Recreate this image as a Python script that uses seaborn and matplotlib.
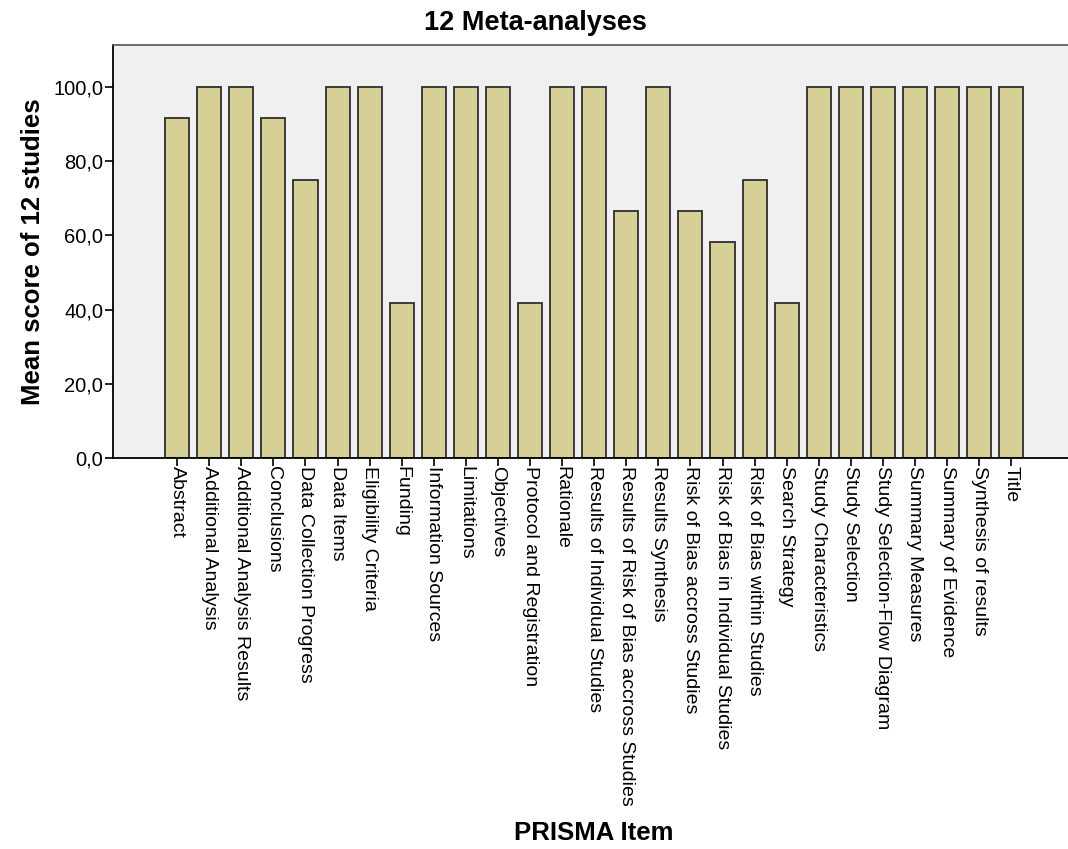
import numpy as np
import pandas as pd
import matplotlib
matplotlib.use("Agg")
import matplotlib.pyplot as plt
import seaborn as sns
from matplotlib.ticker import FuncFormatter, FixedLocator

# PRISMA items and mean score (%) over 12 meta-analyses
items = ['Abstract', 'Additional Analysis', 'Additional Analysis Results', 'Conclusions',
         'Data Collection Progress', 'Data Items', 'Eligibility Criteria', 'Funding',
         'Information Sources', 'Limitations', 'Objectives', 'Protocol and Registration',
         'Rationale', 'Results of Individual Studies', 'Results of Risk of Bias accross Studies',
         'Results Synthesis', 'Risk of Bias accross Studies', 'Risk of Bias in Individual Studies',
         'Risk of Bias within Studies', 'Search Strategy', 'Study Characteristics',
         'Study Selection', 'Study Selection-Flow Diagram', 'Summary Measures',
         'Summary of Evidence', 'Synthesis of results', 'Title']
scores = [91.7, 100, 100, 91.7, 75.0, 100, 100, 41.7, 100, 100, 100, 41.7, 100, 100, 66.7,
          100, 66.7, 58.3, 75.0, 41.7, 100, 100, 100, 100, 100, 100, 100]
yticks = [0, 20, 40, 60, 80, 100]

df = pd.DataFrame({'item': items, 'score': scores})

sns.set_style("white")
plt.rcParams['font.family'] = ['Liberation Sans', 'DejaVu Sans']
plt.rcParams['text.color'] = 'black'
plt.rcParams['axes.labelcolor'] = 'black'
plt.rcParams['xtick.color'] = 'black'
plt.rcParams['ytick.color'] = 'black'

fig = plt.figure(figsize=(10.68, 8.49), dpi=100)
ax = fig.add_axes([0.1058, 0.4605, 0.8942, 0.4865])
ax.set_facecolor('#f0f0f0')

sns.barplot(data=df, x='item', y='score', ax=ax, color='#d6cf96', saturation=1,
            width=0.75, edgecolor='#2e2e2e', linewidth=1.3)

ax.set_xlim(-2, 27.77)
ax.set_ylim(0, 111.3)
ax.yaxis.set_major_locator(FixedLocator(yticks))
ax.yaxis.set_major_formatter(FuncFormatter(lambda v, p: f"{v:.1f}".replace('.', ',')))
ax.tick_params(axis='both', direction='out', length=6, width=1.2, color='black',
               labelcolor='black', left=True, bottom=True)
ax.tick_params(axis='y', labelsize=14.5, pad=1)
ax.tick_params(axis='x', labelsize=14.0, pad=0)
plt.setp(ax.get_xticklabels(), rotation=270, ha='center', va='top')

for s in ['left', 'bottom']:
    ax.spines[s].set_color('black')
    ax.spines[s].set_linewidth(1.3)
ax.spines['top'].set_color('#555555')
ax.spines['top'].set_linewidth(1.2)
ax.spines['right'].set_visible(False)

# title sits left of the axes centre in the original (chart was cropped on the right)
ax.set_title('12 Meta-analyses', fontsize=19.5, fontweight='bold', pad=11,
             x=(535 - 113) / 955, color='black')
ax.set_ylabel('Mean score of 12 studies', fontsize=18.5, fontweight='bold', labelpad=6)
ax.set_xlabel('PRISMA Item', fontsize=18.5, fontweight='bold', va='center')
ax.xaxis.set_label_coords((594 - 113) / 955, -(833 - 458) / 413)

fig.savefig('out.png', dpi=100)
